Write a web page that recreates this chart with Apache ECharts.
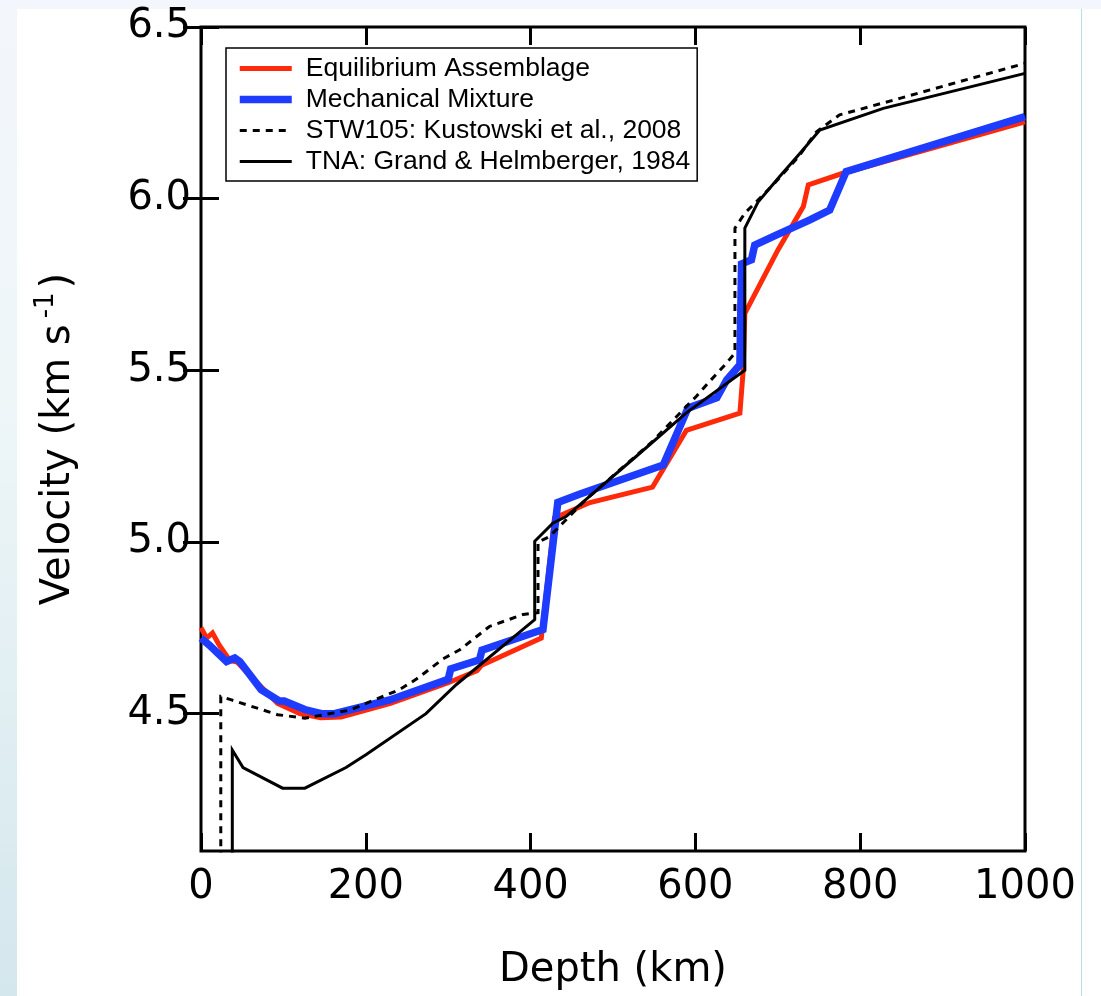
<!DOCTYPE html>
<html>
<head>
<meta charset="utf-8">
<script src="https://cdn.jsdelivr.net/npm/echarts@6/dist/echarts.min.js"></script>
<style>
    html, body { margin: 0; padding: 0; background: #fff; }
    #leftStrip { position: absolute; left: 0; top: 0; width: 17px; height: 996px;
        background: linear-gradient(to bottom, #f3f6fb, #eef6f8 40%, #d4e7ed); }
    #topStrip { position: absolute; left: 0; top: 0; width: 1101px; height: 9px; background: #f3f6fc; }
    #rightLine { position: absolute; left: 1081px; top: 9px; width: 1px; height: 987px; background: #b9dceb; }
    #main { position: absolute; left: 0; top: 0; width: 1101px; height: 996px; }
</style>
</head>
<body>
<div id="leftStrip"></div>
<div id="topStrip"></div>
<div id="rightLine"></div>
<div id="main"></div>
<script>
// depth (km), velocity (km/s) pairs
const equilibrium = [
    [0,4.75],[7,4.72],[14,4.735],[22,4.70],[35,4.655],[44,4.65],[60,4.61],[93,4.53],
    [120,4.50],[145,4.488],[170,4.49],[230,4.53],[300,4.59],[335,4.625],[340,4.64],
    [413,4.72],[429,5.07],[472,5.115],[548,5.16],[589,5.325],[654,5.375],[658,5.50],
    [660,5.666],[700,5.85],[731,5.977],[737,6.04],[779,6.074],[1000,6.224]
]
const mechanical = [
    [0,4.72],[10,4.70],[31,4.652],[41,4.662],[47,4.652],[73,4.57],[95,4.537],[101,4.537],
    [126,4.512],[146,4.50],[162,4.50],[229,4.54],[300,4.60],[303,4.63],[338,4.657],
    [341,4.685],[415,4.745],[433,5.115],[460,5.14],[561,5.224],[591,5.39],[626,5.42],
    [638,5.472],[654,5.516],[656,5.81],[668,5.822],[672,5.865],[698,5.894],[739,5.938],
    [763,5.967],[783,6.079],[1000,6.239]
]
const stw105 = [
    [24,4.0],[24,4.55],[37,4.54],[93,4.497],[126,4.487],[180,4.51],[241,4.57],[261,4.60],
    [294,4.66],[314,4.686],[350,4.754],[391,4.789],[409,4.794],[409,5.0],[423,5.016],
    [470,5.13],[548,5.293],[583,5.38],[601,5.424],[617,5.467],[634,5.511],[648,5.55],
    [648,5.914],[660,5.958],[676,5.996],[696,6.045],[725,6.122],[747,6.195],[775,6.244],
    [848,6.292],[1000,6.394]
]
const tna = [
    [38,4.0],[38,4.394],[51,4.343],[99,4.283],[126,4.283],[176,4.343],[201,4.382],
    [273,4.50],[310,4.585],[405,4.774],[405,5.002],[427,5.055],[443,5.074],[528,5.249],
    [589,5.376],[660,5.50],[660,5.914],[676,5.99],[702,6.064],[727,6.132],[751,6.20],
    [828,6.263],[1000,6.365]
]
const velocityTicks = [4.5, 5.0, 5.5, 6.0, 6.5]

const tickFont = 'DejaVu Sans'
const names = ['Equilibrium Assemblage', 'Mechanical Mixture', 'STW105: Kustowski et al., 2008', 'TNA: Grand & Helmberger, 1984']

let chart = echarts.init(document.getElementById('main'))

function lineSeries(name, data, color, width, type, z){
    return {
        name: name,
        type: 'line',
        data: data,
        symbol: 'none',
        showSymbol: false,
        z: z,
        lineStyle: { color: color, width: width, type: type, cap: 'butt', join: 'miter' },
        itemStyle: { color: color }
    }
}

function legendItem(name, width, type){
    return { name: name, itemStyle: { opacity: 0 }, lineStyle: { width: width, type: type } }
}

chart.setOption({
    animation: false,
    grid: {
        left: 201, right: 76, top: 27, bottom: 143,
        show: true, borderColor: '#000', borderWidth: 3, backgroundColor: 'transparent'
    },
    legend: {
        orient: 'vertical',
        left: 226, top: 48,
        padding: [7, 7, 6, 10],
        itemGap: 4,
        itemWidth: 52, itemHeight: 14,
        borderColor: '#000', borderWidth: 1.5,
        backgroundColor: '#fff',
        textStyle: { fontFamily: 'Liberation Sans', fontSize: 26.5, color: '#000', lineHeight: 22, padding: [0, 0, 0, 9] },
        data: [
            legendItem(names[0], 5, 'solid'),
            legendItem(names[1], 7.5, 'solid'),
            legendItem(names[2], 3, [7, 6]),
            legendItem(names[3], 3, 'solid')
        ]
    },
    xAxis: [{
        type: 'value', min: 0, max: 1000, interval: 200,
        name: 'Depth (km)', nameLocation: 'middle', nameGap: 100,
        nameTextStyle: { fontFamily: tickFont, fontSize: 40, color: '#000' },
        axisLine: { show: false },
        axisTick: { inside: true, length: 18, lineStyle: { color: '#000', width: 3 } },
        axisLabel: { fontFamily: tickFont, fontSize: 40, color: '#000', margin: 17, formatter: v => String(v) },
        splitLine: { show: false }
    }, {
        type: 'value', min: 0, max: 1000, interval: 200, position: 'top',
        axisLine: { show: false },
        axisTick: { inside: true, length: 18, lineStyle: { color: '#000', width: 3 } },
        axisLabel: { show: false },
        splitLine: { show: false }
    }],
    yAxis: [{
        type: 'value', min: 4.1, max: 6.5,
        name: 'Velocity (km s{sup|-1})', nameLocation: 'middle', nameGap: 116,
        nameTextStyle: {
            fontFamily: tickFont, fontSize: 40, color: '#000',
            rich: { sup: { fontFamily: tickFont, fontSize: 26, color: '#000', padding: [0, 4, 26, 6] } }
        },
        axisLine: { show: false },
        axisTick: { inside: true, length: 18, customValues: velocityTicks, lineStyle: { color: '#000', width: 3 } },
        axisLabel: {
            fontFamily: tickFont, fontSize: 40, color: '#000', margin: 10,
            customValues: velocityTicks,
            formatter: v => v.toFixed(1)
        },
        splitLine: { show: false }
    }, {
        type: 'value', min: 4.1, max: 6.5, position: 'right',
        axisLine: { show: false },
        axisTick: { inside: true, length: 18, customValues: velocityTicks, lineStyle: { color: '#000', width: 3 } },
        axisLabel: { show: false },
        splitLine: { show: false }
    }],
    series: [
        lineSeries(names[0], equilibrium, '#ff2a0a', 5, 'solid', 2),
        lineSeries(names[1], mechanical, '#1d3cff', 7.5, 'solid', 3),
        lineSeries(names[2], stw105, '#000', 3, [7, 6], 4),
        lineSeries(names[3], tna, '#000', 3, 'solid', 5)
    ]
})
</script>
</body>
</html>
